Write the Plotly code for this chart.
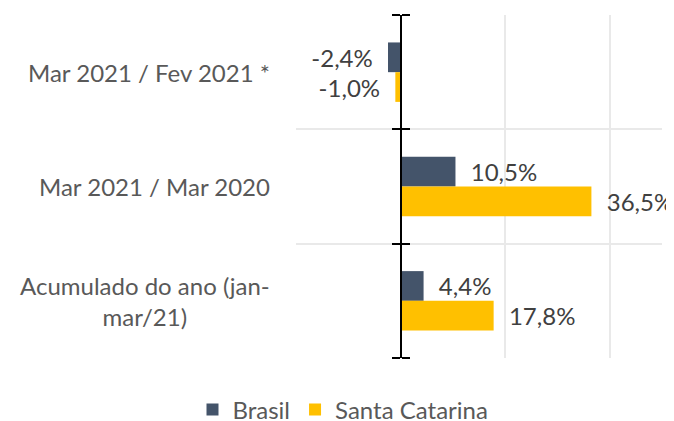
import plotly.graph_objects as go

categories = ["Mar 2021 / Fev 2021 *", "Mar 2021 / Mar 2020", "Acumulado do ano (jan-<br>mar/21)"]
brasil = [-2.4, 10.5, 4.4]
santa_catarina = [-1.0, 36.5, 17.8]
series_names = ["Brasil", "Santa Catarina"]
x_ticks = [-20, 0, 20, 40]
x_range = [-20, 50]

colors = ["#44546A", "#FFC000"]
FONT = "Lato"
FS = 24
TXT = "#595959"
LBL = "#404040"
NB = "\u00a0"

# page body has an 8px default margin; size the figure so it fills the window
W, H = 666, 421

def labels(vals):
    out = []
    for v in vals:
        s = f"{v:.1f}".replace(".", ",") + "%"
        out.append(NB * 2 + s if v >= 0 else s + NB * 2)
    return out

fig = go.Figure()
for name, vals, col in zip(series_names, [brasil, santa_catarina], colors):
    fig.add_trace(go.Bar(
        y=categories, x=vals, name=name, orientation="h",
        marker=dict(color=col, line=dict(width=0)),
        text=labels(vals), textposition="outside", constraintext="none",
        cliponaxis=False,
        outsidetextfont=dict(family=FONT, size=FS, color=LBL),
    ))

n = len(categories)
bounds = [i - 0.5 for i in range(n + 1)]
zero_pos = (0 - x_range[0]) / (x_range[1] - x_range[0])

# empty helper traces so the zero-axis overlays get drawn
for ax in ["y2", "y3"]:
    fig.add_trace(go.Scatter(x=[None], y=[None], yaxis=ax, showlegend=False,
                             hoverinfo="skip", mode="markers"))

for i, c in enumerate(categories):
    fig.add_annotation(x=0, xref="paper", y=c, yref="y", text=c, showarrow=False,
                       xanchor="right", xshift=-24, align="center",
                       font=dict(family=FONT, size=FS, color=TXT))

axis_common = dict(overlaying="y", anchor="free", position=zero_pos,
                   range=[n - 0.5, -0.5], tickvals=bounds, ticks="outside", ticklen=8,
                   tickwidth=2, tickcolor="black", showticklabels=False, showgrid=False,
                   zeroline=False, fixedrange=True)

fig.update_layout(
    width=W, height=H,
    margin=dict(l=288, r=12, t=7, b=71, autoexpand=False),
    paper_bgcolor="white", plot_bgcolor="white",
    barmode="group", bargap=0.48, bargroupgap=0,
    font=dict(family=FONT, size=FS, color=TXT),
    xaxis=dict(range=x_range, tickvals=x_ticks, showticklabels=False, showgrid=True,
               gridcolor="#E9E9E9", gridwidth=1.5, zeroline=False, showline=False),
    yaxis=dict(type="category", range=[n - 0.5, -0.5], tickson="boundaries",
               showgrid=True, gridcolor="#E9E9E9", gridwidth=1.5,
               showticklabels=False, ticks="", showline=False, zeroline=False),
    yaxis2=dict(side="left", showline=True, linecolor="black", linewidth=2, **axis_common),
    yaxis3=dict(side="right", showline=False, **axis_common),
    showlegend=True,
    legend=dict(orientation="h", xref="container", yref="container",
                x=0.503, xanchor="center", y=(H - 402) / H, yanchor="middle",
                font=dict(family=FONT, size=FS, color=TXT), traceorder="normal"),
)

fig.write_html("out.html")
